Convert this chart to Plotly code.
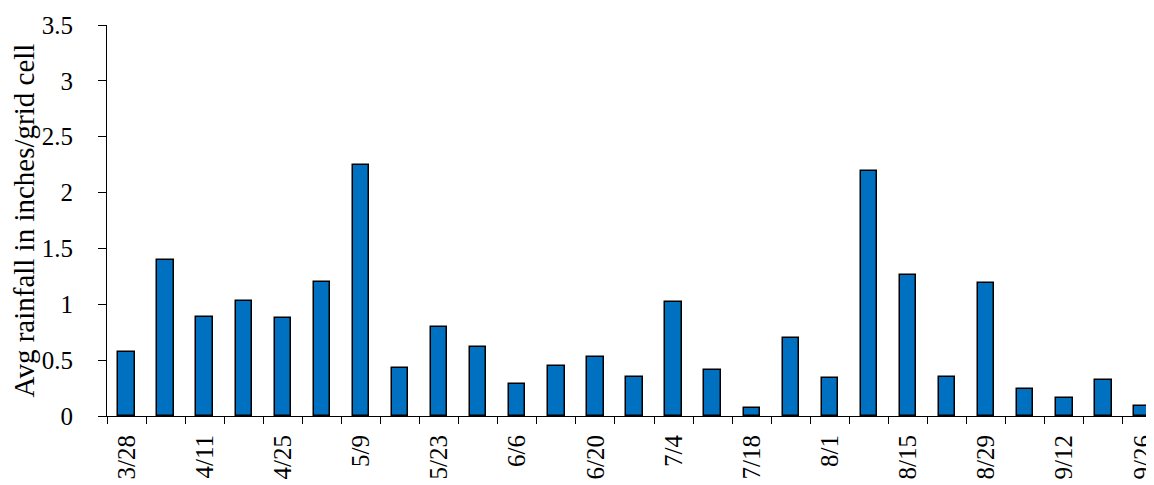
import plotly.graph_objects as go

weeks = ['3/28', '4/4', '4/11', '4/18', '4/25', '5/2', '5/9', '5/16', '5/23', '5/30',
         '6/6', '6/13', '6/20', '6/27', '7/4', '7/11', '7/18', '7/25', '8/1', '8/8',
         '8/15', '8/22', '8/29', '9/5', '9/12', '9/19', '9/26']
rainfall = [0.57, 1.40, 0.89, 1.03, 0.88, 1.20, 2.25, 0.43, 0.80, 0.62,
            0.29, 0.45, 0.53, 0.35, 1.02, 0.41, 0.07, 0.70, 0.34, 2.19,
            1.26, 0.35, 1.19, 0.24, 0.16, 0.32, 0.09]
y_ticks = [0, 0.5, 1, 1.5, 2, 2.5, 3, 3.5]

x = list(range(len(weeks)))
label_idx = x[::2]

tick_font = dict(family='Liberation Serif', size=25, color='black')
title_font = dict(family='Liberation Serif', size=29, color='black')

fig = go.Figure()
fig.add_trace(go.Bar(x=x, y=rainfall, width=0.42,
                     marker=dict(color='#0070C0', line=dict(color='black', width=1.5))))

# page has an 8px body margin, so margins are shifted to land the plot area in place
fig.update_layout(
    width=1154, height=485,
    margin=dict(l=99, r=0, t=17, b=77, autoexpand=False),
    plot_bgcolor='white', paper_bgcolor='white',
    font=tick_font, showlegend=False,
    bargap=0,
)
# major ticks are invisible, they only push the labels down; the visible
# ticks sit between the categories as minor ticks
fig.update_xaxes(
    range=[-0.5, len(weeks) - 0.5], automargin=False,
    tickmode='array', tickvals=label_idx, ticktext=[weeks[i] for i in label_idx],
    tickangle=-90, ticks='outside', ticklen=8, tickcolor='rgba(0,0,0,0)',
    tickfont=tick_font,
    showgrid=False, zeroline=False,
    showline=True, linecolor='black', linewidth=1,
    minor=dict(tickmode='linear', tick0=-0.5, dtick=1, ticks='outside',
               ticklen=7, tickcolor='black', tickwidth=1, showgrid=False),
)
fig.update_yaxes(
    range=[0, 3.5], automargin=False,
    tickvals=y_ticks, ticktext=[f'{v:g}' for v in y_ticks],
    ticks='outside', ticklen=8, tickcolor='black', tickfont=tick_font,
    ticklabelstandoff=20,
    showgrid=False, zeroline=False,
    showline=True, linecolor='black', linewidth=1,
    title=dict(text='Avg rainfall in inches/grid cell', font=title_font, standoff=10),
)

fig.write_html('out.html')
